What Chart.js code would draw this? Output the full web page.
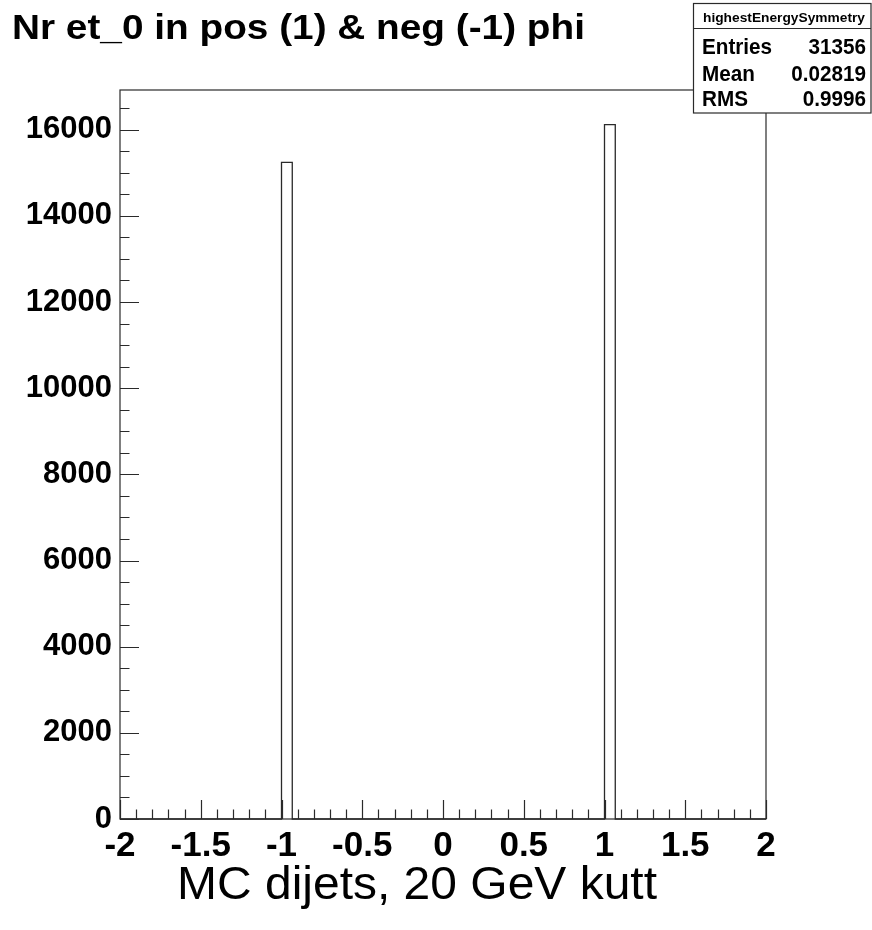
<!DOCTYPE html>
<html><head><meta charset="utf-8">
<script src="https://cdn.jsdelivr.net/npm/chart.js@4/dist/chart.umd.min.js"></script>
<style>html,body{margin:0;padding:0;background:#fff;} #wrap{width:872px;height:930px;}</style>
</head><body><div id="wrap"><canvas id="c" width="872" height="930"></canvas></div>
<script>
// ---- data ----
const chartTitle = "Nr et_0 in pos (1) & neg (-1) phi";
const xAxisTitle = "MC dijets, 20 GeV kutt";
const histName = "highestEnergySymmetry";
const statLabels = ["Entries", "Mean", "RMS"];
const statValues = ["31356", "0.02819", "0.9996"];
const xMin = -2, xMax = 2, nBins = 60;
const counts = [
  0,0,0,0,0,0,0,0,0,0,
  0,0,0,0,0,15240,0,0,0,0,
  0,0,0,0,0,0,0,0,0,0,
  0,0,0,0,0,0,0,0,0,0,
  0,0,0,0,0,16116,0,0,0,0,
  0,0,0,0,0,0,0,0,0,0
];
const xTickValues = [-2, -1.5, -1, -0.5, 0, 0.5, 1, 1.5, 2];
const yTickValues = [0, 2000, 4000, 6000, 8000, 10000, 12000, 14000, 16000];

// ---- build histogram outline from bins ----
const binW = (xMax - xMin) / nBins;
const points = counts.map((c, i) => ({x: xMin + i * binW, y: c}));
points.push({x: xMax, y: 0});
const yMaxVal = 1.05 * Math.max(...counts);

const FONT = '"Liberation Sans", Arial, Helvetica, sans-serif';
const LINE = '#2a2a2a';

function drawText(ctx, text, x, y, font, align, sx) {
  ctx.save();
  ctx.font = font;
  ctx.textBaseline = 'alphabetic';
  ctx.textAlign = 'left';
  const w = ctx.measureText(text).width * sx;
  let x0 = x;
  if (align === 'right') x0 = x - w;
  else if (align === 'center') x0 = x - w / 2;
  ctx.translate(x0, y);
  ctx.scale(sx, 1);
  ctx.fillStyle = '#000';
  ctx.fillText(text, 0, 0);
  ctx.restore();
}
function fitText(ctx, text, x, y, font, width) {
  ctx.save(); ctx.font = font;
  const sx = width / ctx.measureText(text).width;
  ctx.restore();
  drawText(ctx, text, x, y, font, 'left', sx);
}

const rootDecor = {
  id: 'rootDecor',
  afterDatasetsDraw(chart) {
    const ctx = chart.ctx, a = chart.chartArea;
    const xs = chart.scales.x, ys = chart.scales.y;
    ctx.save();
    ctx.strokeStyle = LINE;
    ctx.lineWidth = 1.2;
    ctx.strokeRect(a.left, a.top, a.right - a.left, a.bottom - a.top);
    ctx.beginPath();
    for (let k = 0; k <= 40; k++) {
      const v = xMin + k * 0.1;
      const px = Math.round(xs.getPixelForValue(v)) + 0.5;
      const len = (k % 5 === 0) ? 19 : 9.5;
      ctx.moveTo(px, a.bottom); ctx.lineTo(px, a.bottom - len);
    }
    for (let v = 0; v <= yMaxVal; v += 500) {
      const py = Math.round(ys.getPixelForValue(v)) + 0.5;
      const len = (v % 2000 === 0) ? 19 : 9.5;
      ctx.moveTo(a.left, py); ctx.lineTo(a.left + len, py);
    }
    ctx.stroke();
    ctx.restore();
  },
  afterDraw(chart) {
    const ctx = chart.ctx;
    fitText(ctx, chartTitle, 12, 39, 'bold 35px ' + FONT, 573);
    fitText(ctx, xAxisTitle, 177, 899, '47px ' + FONT, 480);
    ctx.save();
    ctx.fillStyle = '#fff';
    ctx.fillRect(693, 3, 178, 110);
    ctx.strokeStyle = LINE; ctx.lineWidth = 1.2;
    ctx.strokeRect(693.5, 3.5, 177.5, 109.5);
    ctx.beginPath(); ctx.moveTo(693.5, 28.5); ctx.lineTo(871, 28.5); ctx.stroke();
    ctx.restore();
    fitText(ctx, histName, 703, 22, 'bold 13px ' + FONT, 162);
    const rowY = [54, 81, 106];
    statLabels.forEach((t, i) => drawText(ctx, t, 702, rowY[i], 'bold 22px ' + FONT, 'left', 0.94));
    statValues.forEach((t, i) => drawText(ctx, t, 866, rowY[i], 'bold 22px ' + FONT, 'right', 0.94));
  }
};

new Chart(document.getElementById('c'), {
  type: 'line',
  data: {
    datasets: [{
      data: points,
      stepped: 'before',
      borderColor: LINE,
      borderWidth: 1.3,
      pointRadius: 0,
      fill: false,
      clip: false
    }]
  },
  options: {
    responsive: false,
    animation: false,
    devicePixelRatio: 1,
    layout: {padding: {top: 90, right: 106, left: 0, bottom: 0}},
    plugins: {legend: {display: false}, tooltip: {enabled: false}, title: {display: false}},
    scales: {
      x: {
        type: 'linear', min: xMin, max: xMax,
        afterBuildTicks: s => { s.ticks = xTickValues.map(v => ({value: v})); },
        afterFit: s => { s.height = 111; },
        grid: {display: false, drawTicks: false},
        border: {display: false},
        ticks: {
          color: '#000', padding: 6, maxRotation: 0, autoSkip: false,
          font: {family: FONT, weight: 'bold', size: 35},
          callback: v => String(v)
        }
      },
      y: {
        type: 'linear', min: 0, max: yMaxVal,
        afterBuildTicks: s => { s.ticks = yTickValues.map(v => ({value: v})); },
        afterFit: s => { s.width = 120; },
        grid: {display: false, drawTicks: false},
        border: {display: false},
        ticks: {
          color: '#000', padding: 8, autoSkip: false,
          font: {family: FONT, weight: 'bold', size: 31},
          callback: v => String(v)
        }
      }
    }
  },
  plugins: [rootDecor]
});
</script>
</body></html>
